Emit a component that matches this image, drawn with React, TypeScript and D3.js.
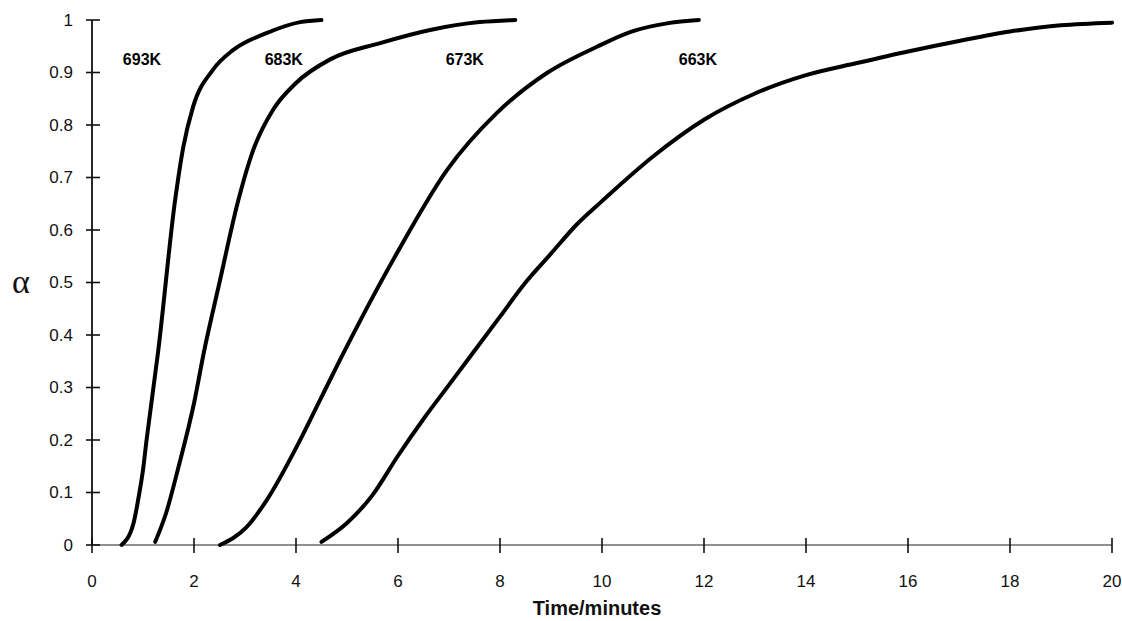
import React from "react";
import * as d3 from "d3";

const xTicks = [0, 2, 4, 6, 8, 10, 12, 14, 16, 18, 20];
const yTicks = [0, 0.1, 0.2, 0.3, 0.4, 0.5, 0.6, 0.7, 0.8, 0.9, 1];

const t693 = [0.58, 0.81, 0.93, 1.0, 1.07, 1.3, 1.63, 1.79, 1.98, 2.37, 2.77, 3.42, 4.08, 4.5];
const a693 = [0, 0.04, 0.1, 0.143, 0.2, 0.371, 0.657, 0.758, 0.834, 0.905, 0.943, 0.975, 0.996, 1.0];

const t683 = [1.24, 1.45, 1.7, 2.0, 2.2, 2.5, 2.87, 3.16, 3.55, 4.0, 4.67, 5.65, 6.63, 7.6, 8.3];
const a683 = [0.006, 0.06, 0.15, 0.27, 0.37, 0.5, 0.657, 0.752, 0.829, 0.88, 0.925, 0.956, 0.981, 0.996, 1.0];

const t673 = [2.51, 3.03, 3.43, 4.05, 4.47, 4.86, 5.98, 6.96, 7.94, 8.92, 9.9, 10.55, 11.3, 11.9];
const a673 = [0, 0.034, 0.086, 0.194, 0.276, 0.352, 0.556, 0.714, 0.823, 0.899, 0.949, 0.977, 0.994, 1.0];

const t663 = [4.5, 5, 5.5, 6, 6.5, 7, 7.5, 8, 8.5, 9, 9.5, 10, 11, 12, 13, 14, 15, 16, 17, 18, 19, 20];
const a663 = [0.006, 0.042, 0.095, 0.17, 0.24, 0.305, 0.37, 0.435, 0.5, 0.555, 0.61, 0.655, 0.74, 0.81, 0.86, 0.895, 0.918, 0.94, 0.96, 0.978, 0.99, 0.995];

const seriesNames = ["693K", "683K", "673K", "663K"];
const labelT = [0.98, 3.76, 7.31, 11.88];
const labelA = [0.925, 0.925, 0.925, 0.925];

const W = 1122;
const H = 621;

export default function App() {
  const x = d3.scaleLinear().domain([0, 20]).range([92, 1112]);
  const y = d3.scaleLinear().domain([0, 1]).range([545, 20]);
  const line = d3
    .line<[number, number]>()
    .x((d) => x(d[0]))
    .y((d) => y(d[1]))
    .curve(d3.curveMonotoneX);

  const series = [
    d3.zip(t693, a693),
    d3.zip(t683, a683),
    d3.zip(t673, a673),
    d3.zip(t663, a663),
  ] as [number, number][][];

  const font = "'Liberation Sans', Arial, sans-serif";

  return (
    <svg
      width={W}
      height={H}
      style={{ position: "absolute", left: 0, top: 0, background: "#fff" }}
    >
      <rect x={0} y={0} width={W} height={H} fill="#fff" />
      {/* axes */}
      <line x1={x(0)} x2={x(20)} y1={y(0)} y2={y(0)} stroke="#222" strokeWidth={1.2} />
      <line x1={x(0)} x2={x(0)} y1={y(0)} y2={y(1)} stroke="#111" strokeWidth={1.8} />
      {yTicks.map((v) => (
        <g key={"y" + v}>
          <line x1={x(0) - 6} x2={x(0) + 8} y1={y(v)} y2={y(v)} stroke="#111" strokeWidth={1.6} />
          <text
            x={73}
            y={y(v)}
            dy="0.35em"
            textAnchor="end"
            fontFamily={font}
            fontSize={17}
            fill="#111"
          >
            {String(+v.toFixed(1))}
          </text>
        </g>
      ))}
      {xTicks.map((v) => (
        <g key={"x" + v}>
          <line x1={x(v)} x2={x(v)} y1={y(0) - 7} y2={y(0) + 8} stroke="#111" strokeWidth={1.6} />
          <text
            x={x(v)}
            y={587}
            textAnchor="middle"
            fontFamily={font}
            fontSize={17}
            fill="#111"
          >
            {v}
          </text>
        </g>
      ))}
      <text
        x={(x(0) + x(20)) / 2 - 5}
        y={615}
        textAnchor="middle"
        fontFamily={font}
        fontWeight="bold"
        fontSize={20}
        fill="#111"
      >
        Time/minutes
      </text>
      <text
        x={21}
        y={y(0.5)}
        dy="0.3em"
        textAnchor="middle"
        fontFamily="'Liberation Serif', serif"
        fontSize={34}
        fill="#111"
      >
        α
      </text>
      {series.map((s, i) => (
        <path
          key={seriesNames[i]}
          d={line(s) || ""}
          fill="none"
          stroke="#000"
          strokeWidth={4}
          strokeLinecap="round"
          strokeLinejoin="round"
        />
      ))}
      {seriesNames.map((n, i) => (
        <text
          key={"l" + n}
          x={x(labelT[i])}
          y={y(labelA[i])}
          dy="0.35em"
          textAnchor="middle"
          fontFamily={font}
          fontWeight="bold"
          fontSize={16}
          fill="#000"
        >
          {n}
        </text>
      ))}
    </svg>
  );
}
